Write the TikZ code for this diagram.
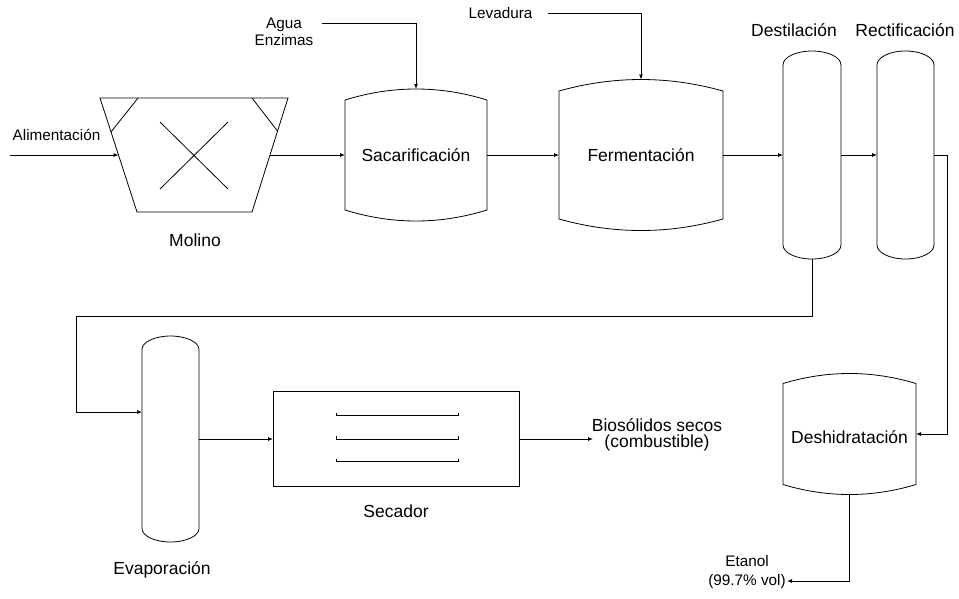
\documentclass[tikz,border=0pt]{standalone}
\usepackage{fontspec}
\setmainfont{Liberation Sans}
\usetikzlibrary{arrows.meta}
\begin{document}
\begin{tikzpicture}[x=1pt,y=-1pt,
  line width=0.8pt,
  flow/.style={-{Latex[length=5pt,width=4pt]}},
  big/.style={font=\fontsize{17.5}{20}\selectfont, inner sep=0pt},
  small/.style={font=\fontsize{15.3}{17}\selectfont, inner sep=0pt},
  % vessel with arched top and bottom: half width, half height at the corners, bulge
  pics/tank/.style n args={3}{code={
    \draw (-#1,-#2) .. controls (-#1/3,-#2-4*#3/3) and (#1/3,-#2-4*#3/3) .. (#1,-#2)
      -- (#1,#2) .. controls (#1/3,#2+4*#3/3) and (-#1/3,#2+4*#3/3) .. (-#1,#2) -- cycle;
    \coordinate (-w) at (-#1,0);
    \coordinate (-e) at (#1,0);
    \coordinate (-n) at (0,-#2-#3);
    \coordinate (-s) at (0,#2+#3);
  }},
  % column with elliptic heads: half width, half height of the shell, head depth
  pics/column/.style n args={3}{code={
    \draw (-#1,-#2) .. controls (-#1,-#2-0.5523*#3) and (-0.5523*#1,-#2-#3) .. (0,-#2-#3)
      .. controls (0.5523*#1,-#2-#3) and (#1,-#2-0.5523*#3) .. (#1,-#2)
      -- (#1,#2) .. controls (#1,#2+0.5523*#3) and (0.5523*#1,#2+#3) .. (0,#2+#3)
      .. controls (-0.5523*#1,#2+#3) and (-#1,#2+0.5523*#3) .. (-#1,#2) -- cycle;
    \coordinate (-w) at (-#1,0);
    \coordinate (-e) at (#1,0);
    \coordinate (-n) at (0,-#2-#3);
    \coordinate (-s) at (0,#2+#3);
  }},
  % hammer mill
  pics/mill/.style={code={
    \draw (-94,-57) -- (94,-57) -- (58,57) -- (-57,57) -- cycle;
    \draw (-56,-57) -- (-83,-23) (58,-57) -- (83.5,-24);
    \draw (-34,-33) -- (34,34) (-34,34) -- (34,-33);
    \coordinate (-w) at (-75.5,0);
    \coordinate (-e) at (76,0);
  }},
  % tray dryer
  pics/dryer/.style={code={
    \draw (-123,-47.5) rectangle (123,47.5);
    \foreach \yy in {-23.5,0,22.5}
      \draw[line width=0.7pt] (-60,\yy-3) -- (-60,\yy) -- (62,\yy) -- (62,\yy-3);
    \coordinate (-w) at (-123,0);
    \coordinate (-e) at (123,0);
  }}
]
\useasboundingbox (0,0) rectangle (959,598);

% equipment
\pic (mol) at (194,155) {mill};
\pic (sac) at (416,155) {tank={71}{55}{11}};
\pic (fer) at (641,155) {tank={82}{64}{11.5}};
\pic (dest) at (812,155) {column={29}{90}{14}};
\pic (rect) at (905.5,155) {column={28.5}{90}{14}};
\pic (desh) at (849.5,434) {tank={66.5}{50.5}{10}};
\pic (evap) at (170.5,439) {column={28.5}{89.5}{13.5}};
\pic (dry) at (396,439) {dryer};

% stream ends and bends
\coordinate (feed) at (10,155);
\coordinate (agua) at (322,23);
\coordinate (lev) at (548,13);
\coordinate (rturn) at (947,155);
\coordinate (loop) at (76,316);
\coordinate (bio) at (593,439);
\coordinate (eth) at (787,581);

% streams
\draw[flow] (feed) -- (mol-w);
\draw[flow] (mol-e) -- (sac-w);
\draw[flow] (sac-e) -- (fer-w);
\draw[flow] (fer-e) -- (dest-w);
\draw[flow] (dest-e) -- (rect-w);
\draw[flow] (rect-e) -- (rturn) |- (desh-e);
\draw[flow] (desh-s) |- (eth);
\draw[flow] (dest-s) |- (loop) |- ([yshift=27pt]evap-w);
\draw[flow] (evap-e) -- (dry-w);
\draw[flow] (dry-e) -- (bio);
\draw[flow] (agua) -| (sac-n);
\draw[flow] (lev) -| (fer-n);

% labels
\node[small] (tfeed) at (56.5,135) {Alimentación};
\node[small, align=center, font=\fontsize{15.3}{17}\selectfont] (tagua) at (284,31.5) {Agua\\Enzimas};
\node[small] (tlev) at (500.5,13) {Levadura};
\node[big] (tmol) at (195,240) {Molino};
\node[big] (tsac) at (416,155) {Sacarificación};
\node[big] (tfer) at (641,155) {Fermentación};
\node[big] (tdest) at (794,30) {Destilación};
\node[big] (trect) at (905,30) {Rectificación};
\node[big] (tdesh) at (849.5,437) {Deshidratación};
\node[big] (tevap) at (162,570) {Evaporación};
\node[big] (tdry) at (396,511) {Secador};
\node[big, align=center, font=\fontsize{17.5}{16.5}\selectfont] (tbio) at (657,435) {Biosólidos secos\\(combustible)};
\node[small, align=center, font=\fontsize{15.3}{19}\selectfont] (teth) at (747,572) {Etanol\\(99.7\% vol)};
\end{tikzpicture}
\end{document}
